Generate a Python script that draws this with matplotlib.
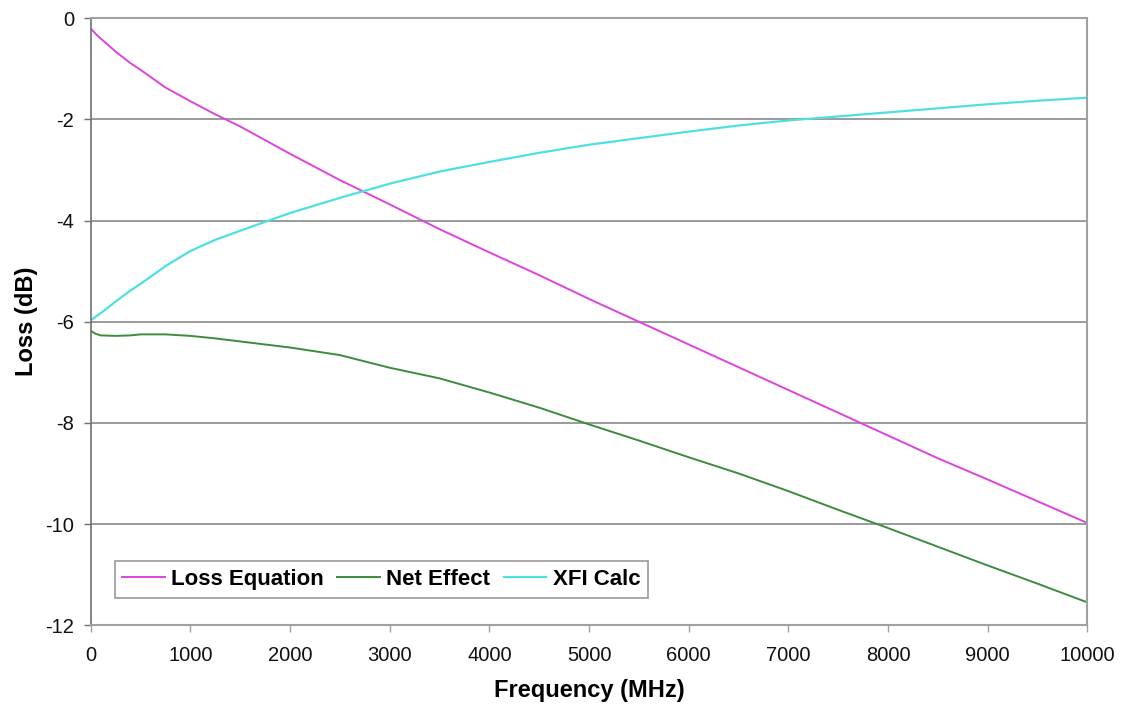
import numpy as np
import matplotlib
matplotlib.use("Agg")
import matplotlib.pyplot as plt

plt.rcParams['font.family'] = ['Liberation Sans', 'DejaVu Sans']
plt.rcParams['axes.unicode_minus'] = False

freq_mhz = [0, 50, 100, 250, 400, 500, 750, 1000, 1250, 1500, 2000, 2500, 3000, 3500,
            4000, 4500, 5000, 5500, 6000, 6500, 7000, 7500, 8000, 8500, 9000,
            9500, 10000]
loss_equation = [-0.2, -0.31, -0.4, -0.66, -0.89, -1.02, -1.37, -1.64, -1.9, -2.14, -2.68,
                 -3.2, -3.68, -4.17, -4.63, -5.08, -5.55, -6.0, -6.45, -6.9, -7.35,
                 -7.8, -8.25, -8.7, -9.12, -9.55, -9.98]
net_effect = [-6.18, -6.24, -6.27, -6.28, -6.27, -6.25, -6.25, -6.28, -6.33, -6.39, -6.51,
              -6.66, -6.91, -7.12, -7.4, -7.7, -8.03, -8.35, -8.68, -9.0, -9.35,
              -9.72, -10.08, -10.45, -10.82, -11.18, -11.55]
xfi_calc = [-5.97, -5.9, -5.83, -5.6, -5.38, -5.25, -4.9, -4.6, -4.38, -4.2, -3.85,
            -3.55, -3.27, -3.03, -2.84, -2.66, -2.5, -2.37, -2.24, -2.12, -2.02,
            -1.94, -1.86, -1.78, -1.7, -1.63, -1.57]

fig = plt.figure(figsize=(11.21, 7.04), dpi=100)
ax = fig.add_axes([0.081, 0.112, 0.889, 0.862])

ax.plot(freq_mhz, loss_equation, color='#dd44dd', lw=1.4, label='Loss Equation')
ax.plot(freq_mhz, net_effect, color='#3d8b3d', lw=1.4, label='Net Effect')
ax.plot(freq_mhz, xfi_calc, color='#4ee0e0', lw=1.6, label='XFI Calc')

ax.set_xlim(0, 10000)
ax.set_ylim(-12, 0)
ax.set_xticks(np.arange(0, 10001, 1000))
ax.set_yticks(np.arange(-12, 1, 2))
ax.yaxis.grid(True, color='#8a8a8a', lw=1.2)
ax.set_axisbelow(True)

for side in ['top', 'right', 'bottom']:
    ax.spines[side].set_color('#a0a0a0')
    ax.spines[side].set_linewidth(1.5)
ax.spines['left'].set_color('#707070')
ax.spines['left'].set_linewidth(1.2)

ax.tick_params(axis='both', labelsize=14.5, colors='#111111', length=5,
               width=1, direction='out')
ax.tick_params(axis='x', color='#a0a0a0', pad=10)
ax.tick_params(axis='y', color='#707070', pad=7)

ax.set_xlabel('Frequency (MHz)', fontsize=17, fontweight='bold', labelpad=10)
ax.set_ylabel('Loss (dB)', fontsize=17, fontweight='bold', labelpad=5)

leg = ax.legend(loc='lower left', bbox_to_anchor=(0.024, 0.045), ncol=3,
                prop={'size': 16, 'weight': 'bold'}, frameon=True, fancybox=False,
                handlelength=1.9, handletextpad=0.3, columnspacing=0.6,
                borderpad=0.35, borderaxespad=0)
leg.get_frame().set_edgecolor('#808080')
leg.get_frame().set_linewidth(1.2)

fig.savefig('out.png', dpi=100)
